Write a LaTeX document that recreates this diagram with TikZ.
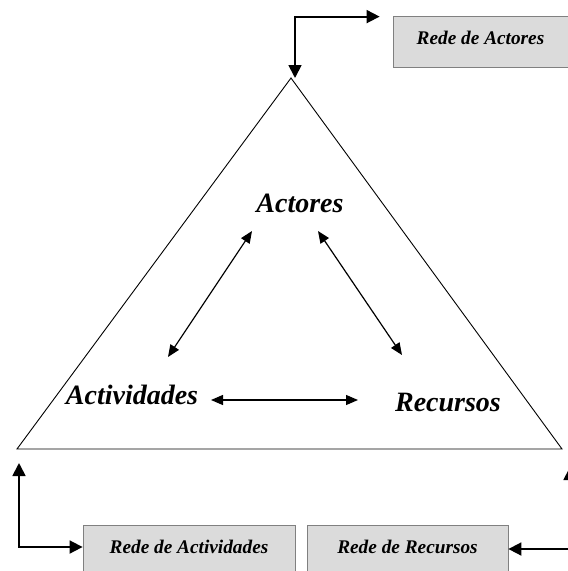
\documentclass[tikz,border=0pt]{standalone}
\usepackage{fontspec}
\setmainfont{Liberation Serif}
\usetikzlibrary{arrows.meta,
                calc,
                positioning,
                shapes.geometric}

\begin{document}
\begin{tikzpicture}[x=1pt,y=-1pt,
    rede/.style={draw=black!50, fill=black!14, line width=0.8pt,
        minimum height=51pt, text height=12pt, text depth=7pt,
        font=\fontsize{19.3}{21}\selectfont\bfseries\itshape},
    polo/.style={inner sep=0pt, font=\fontsize{28}{32}\selectfont\bfseries\itshape},
    liga/.style={line width=1.8pt, {Triangle[length=13pt,width=13pt]}-{Triangle[length=13pt,width=13pt]}},
    rel/.style={line width=1.2pt, {Triangle[length=12pt,width=10pt]}-{Triangle[length=12pt,width=10pt]}}]

\useasboundingbox (0,0) rectangle (568,571);

% triangulo
\coordinate (topo) at (291,78);
\coordinate (esq) at (17,449);
\coordinate (dir) at (562,449);
\draw[line width=0.9pt] (topo) -- (esq) -- (dir) -- cycle;

\node[polo] (actores) at (300,203) {Actores};
\node[polo] (actividades) at (132,395) {Actividades};
\node[polo] (recursos) at (448,402) {Recursos};

\draw[rel] ($(actividades)+(36,-38)$) -- ($(actores)+(-48,28)$);
\draw[rel] ($(actores)+(18,28)$) -- ($(recursos)+(-46,-47)$);
\draw[rel] ($(actividades)+(79,5)$) -- ($(recursos)+(-90,-2)$);

% redes
\node[rede, minimum width=175pt] (redeActores) at (480.5,41.5) {Rede de Actores};
\node[rede, minimum width=212pt] (redeActividades) at (189,550.5) {Rede de Actividades};
\node[rede, minimum width=201pt] (redeRecursos) at (407.5,550.5) {Rede de Recursos};

\draw[liga] ($(redeActores.north west)+(-13,1)$) -| ($(topo)+(4,0)$);
\draw[liga] ($(esq)+(2,14)$) |- ($(redeActividades.west)+(0,-3.5)$);
\draw[liga] ($(dir)+(8,18)$) |- ($(redeRecursos.east)+(0,-1.5)$);

\end{tikzpicture}
\end{document}
